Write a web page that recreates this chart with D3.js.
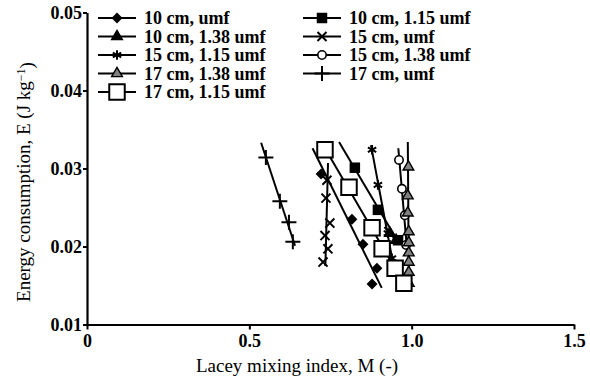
<!DOCTYPE html>
<html>
<head>
<meta charset="utf-8">
<script src="https://cdn.jsdelivr.net/npm/d3@7"></script>
<style>
  html, body { margin: 0; padding: 0; background: #fff; }
  svg { display: block; }
  text { font-family: "Liberation Serif", "Times New Roman", serif; fill: #000; }
</style>
</head>
<body>
<svg id="chart" width="590" height="376"></svg>
<script>
// Mixing index M (x) and energy consumption E (y) per bed height / gas velocity run.
// fitTop: upper E end of each fitted trend line.
const series10umf  = { name: "10 cm, umf",      fitTop: 0.0326, M: [0.721, 0.816, 0.850, 0.893, 0.878],                       E: [0.0293, 0.0235, 0.0203, 0.0172, 0.0152] };
const series10_115 = { name: "10 cm, 1.15 umf", fitTop: 0.0334, M: [0.825, 0.896, 0.958],                                     E: [0.0301, 0.0247, 0.0208] };
const series10_138 = { name: "10 cm, 1.38 umf", fitTop: 0.0225, M: [0.933, 0.952],                                            E: [0.0217, 0.0208] };
const series15umf  = { name: "15 cm, umf",      fitTop: 0.0307, M: [0.739, 0.736, 0.748, 0.733, 0.742, 0.727],                E: [0.0285, 0.0262, 0.0230, 0.0214, 0.0197, 0.0180] };
const series15_115 = { name: "15 cm, 1.15 umf", fitTop: 0.0330, M: [0.878, 0.896, 0.927, 0.939],                              E: [0.0324, 0.0279, 0.0217, 0.0185] };
const series15_138 = { name: "15 cm, 1.38 umf", fitTop: 0.0326, M: [0.961, 0.970, 0.979, 0.983],                              E: [0.0311, 0.0274, 0.0240, 0.0202] };
const series17_138 = { name: "17 cm, 1.38 umf", fitTop: 0.0334, M: [0.990, 0.988, 0.988, 0.991, 0.991, 0.991, 0.991, 0.991, 0.991], E: [0.0302, 0.0265, 0.0243, 0.0219, 0.0205, 0.0192, 0.0180, 0.0167, 0.0153] };
const series17umf  = { name: "17 cm, umf",      fitTop: 0.0333, M: [0.551, 0.594, 0.622, 0.634],                              E: [0.0314, 0.0258, 0.0231, 0.0206] };
const series17_115 = { name: "17 cm, 1.15 umf", fitTop: 0.0326, M: [0.733, 0.807, 0.878, 0.909, 0.949, 0.976],                E: [0.0324, 0.0276, 0.0224, 0.0197, 0.0172, 0.0153] };

const xTicks = [0, 0.5, 1.0, 1.5];
const xTickLabels = ["0", "0.5", "1.0", "1.5"];
const yTicks = [0.01, 0.02, 0.03, 0.04, 0.05];
const yTickLabels = ["0.01", "0.02", "0.03", "0.04", "0.05"];

const svg = d3.select("#chart");
const x = d3.scaleLinear().domain([0, 1.5]).range([87, 574]);
const y = d3.scaleLinear().domain([0.01, 0.05]).range([324.5, 12.5]);

// Rotated square used as the diamond marker
const symbolRhomb = {
  draw(ctx, size) {
    const r = Math.sqrt(size / 2);
    ctx.moveTo(0, -r); ctx.lineTo(r, 0); ctx.lineTo(0, r); ctx.lineTo(-r, 0); ctx.closePath();
  }
};

// Marker styling for each series
const styles = [
  { s: series10umf,  sym: symbolRhomb,       size: 60,  fill: "#000", stroke: "none", sw: 0 },
  { s: series10_115, sym: d3.symbolSquare,   size: 110, fill: "#000", stroke: "none", sw: 0 },
  { s: series10_138, sym: d3.symbolTriangle, size: 75,  fill: "#000", stroke: "none", sw: 0 },
  { s: series15umf,  sym: d3.symbolX,        size: 55,  fill: "none", stroke: "#000", sw: 2 },
  { s: series15_115, sym: d3.symbolAsterisk, size: 65,  fill: "none", stroke: "#000", sw: 2 },
  { s: series15_138, sym: d3.symbolCircle,   size: 55,  fill: "#fff", stroke: "#000", sw: 1.6 },
  { s: series17_138, sym: d3.symbolTriangle, size: 50,  fill: "#808080", stroke: "#000", sw: 1.4 },
  { s: series17umf,  sym: d3.symbolPlus,     size: 75,  fill: "none", stroke: "#000", sw: 2 },
  { s: series17_115, sym: d3.symbolSquare,   size: 240, fill: "#fff", stroke: "#000", sw: 2 }
];

// Least-squares fit of M against E
function fit(s) {
  const n = s.E.length;
  const mE = d3.mean(s.E), mM = d3.mean(s.M);
  let num = 0, den = 0;
  for (let i = 0; i < n; i++) { num += (s.E[i] - mE) * (s.M[i] - mM); den += (s.E[i] - mE) ** 2; }
  const b = den === 0 ? 0 : num / den;
  const a = mM - b * mE;
  return e => a + b * e;
}

// Axes
const xAxis = d3.axisBottom(x).tickValues(xTicks).tickFormat((d, i) => xTickLabels[i]).tickSize(5).tickSizeOuter(0);
const yAxis = d3.axisLeft(y).tickValues(yTicks).tickFormat((d, i) => yTickLabels[i]).tickSize(4).tickSizeOuter(0);

const gx = svg.append("g").attr("transform", "translate(0,324.5)").call(xAxis);
const gy = svg.append("g").attr("transform", "translate(87,0)").call(yAxis);
[gx, gy].forEach(g => {
  g.select(".domain").attr("stroke", "#000").attr("stroke-width", 2.2);
  g.selectAll(".tick line").attr("stroke", "#000").attr("stroke-width", 2);
  g.selectAll(".tick text").attr("fill", "#000")
    .style("font-family", "'Liberation Serif', serif").style("font-size", "18px").style("font-weight", "bold");
});
gx.selectAll(".tick text").attr("dy", "0.72em").attr("y", 10);
gy.selectAll(".tick text").attr("x", -5).attr("dy", "0.34em");

// Axis titles
svg.append("text")
  .attr("x", 297).attr("y", 372)
  .attr("text-anchor", "middle")
  .style("font-size", "19px")
  .text("Lacey mixing index, M (-)");

const yt = svg.append("text")
  .attr("transform", "translate(30,182) rotate(-90)")
  .attr("text-anchor", "middle")
  .style("font-size", "19px");
yt.append("tspan").text("Energy consumption, E (J kg");
yt.append("tspan").attr("dy", "-0.45em").style("font-size", "12px").text("\u22121");
yt.append("tspan").attr("dy", "0.45em").text(")");

// Trend lines
const plot = svg.append("g");
styles.forEach(st => {
  const f = fit(st.s);
  const eTop = st.s.fitTop;
  const eLow = d3.min(st.s.E) - 0.0005;
  plot.append("line")
    .attr("x1", x(f(eTop))).attr("y1", y(eTop))
    .attr("x2", x(f(eLow))).attr("y2", y(eLow))
    .attr("stroke", "#000").attr("stroke-width", 2);
});

// Markers
styles.forEach(st => {
  const sym = d3.symbol().type(st.sym).size(st.size);
  plot.append("g").selectAll("path")
    .data(st.s.M.map((m, i) => [m, st.s.E[i]]))
    .join("path")
    .attr("d", sym)
    .attr("transform", d => `translate(${x(d[0])},${y(d[1])})`)
    .attr("fill", st.fill)
    .attr("stroke", st.stroke)
    .attr("stroke-width", st.sw);
});

// Legend: two columns, filled row by row
const legend = svg.append("g");
const colX = [117, 322];
const rowY0 = 18, rowH = 18.5;
styles.forEach((st, j) => {
  const col = j % 2, row = Math.floor(j / 2);
  const cx = colX[col], cy = rowY0 + row * rowH;
  const g = legend.append("g").attr("transform", `translate(${cx},${cy})`);
  g.append("line").attr("x1", -19).attr("x2", 19).attr("stroke", "#000").attr("stroke-width", 2);
  g.append("path").attr("d", d3.symbol().type(st.sym).size(st.size)())
    .attr("fill", st.fill).attr("stroke", st.stroke).attr("stroke-width", st.sw);
  g.append("text").attr("x", 27).attr("dy", "0.35em")
    .style("font-size", "18px").style("font-weight", "bold")
    .text(st.s.name);
});
</script>
</body>
</html>
